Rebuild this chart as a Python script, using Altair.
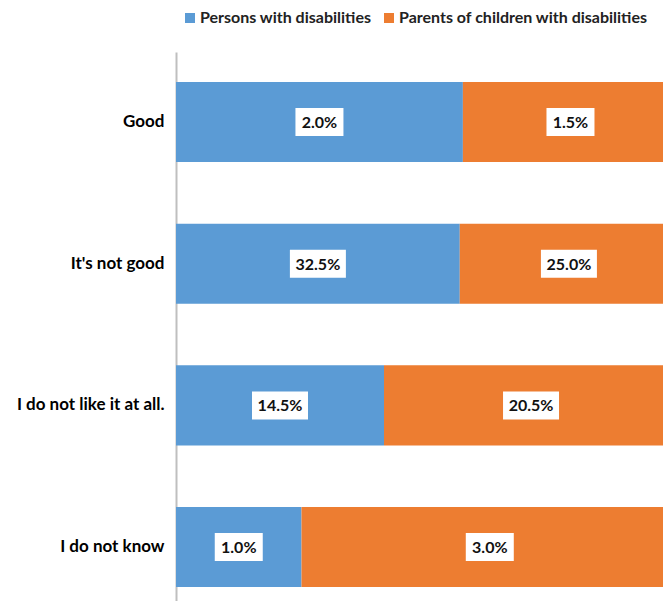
import altair as alt
import pandas as pd

categories = ["Good", "It's not good", "I do not like it at all.", "I do not know"]
series = ["Persons with disabilities", "Parents of children with disabilities"]
persons = [2.0, 32.5, 14.5, 1.0]
parents = [1.5, 25.0, 20.5, 3.0]
colors = ["#5B9BD5", "#ED7D31"]

rows = []
for i, c in enumerate(categories):
    rows.append({"category": c, "series": series[0], "order": 0, "value": persons[i]})
    rows.append({"category": c, "series": series[1], "order": 1, "value": parents[i]})
df = pd.DataFrame(rows)

FONT = "Lato"

base = alt.Chart(df).transform_stack(
    stack="value", as_=["x0", "x1"], groupby=["category"], offset="normalize",
    sort=[alt.SortField("order", "ascending")]
).transform_calculate(
    mid="(datum.x0 + datum.x1) / 2",
    label="format(datum.value, '.1f') + '%'",
).transform_calculate(
    bw="length(datum.label) * 8 + 16",
).transform_calculate(
    boxpath="'M-1,-' + (14 / datum.bw * 2) + 'H1V' + (14 / datum.bw * 2) + 'H-1Z'",
    boxsize="datum.bw * datum.bw",
)

xscale = alt.Scale(domain=[0, 0.970], nice=False, zero=False)
yenc = alt.Y(
    "category:N",
    sort=categories,
    scale=alt.Scale(paddingInner=0.435, paddingOuter=0.155, align=0.683),
    axis=alt.Axis(
        title=None, ticks=False, labelFont=FONT, labelFontWeight="bold",
        labelFontSize=17, labelColor="#000000", labelPadding=12,
        domainColor="#bfbfbf", domainWidth=2, grid=False,
    ),
)

bars = base.mark_bar(clip=True).encode(
    x=alt.X("x0:Q", scale=xscale, axis=None),
    x2="x1:Q",
    y=yenc,
    color=alt.Color(
        "series:N",
        scale=alt.Scale(domain=series, range=colors),
        legend=alt.Legend(
            title=None, orient="none", legendX=6, legendY=-42, direction="horizontal",
            symbolType="square", symbolSize=100, symbolStrokeWidth=0,
            labelFont=FONT, labelFontWeight="bold", labelFontSize=16,
            labelColor="#222222", labelOffset=2, columnPadding=9,
            labelLimit=400,
        ),
    ),
    order=alt.Order("order:Q"),
)

boxes = base.mark_point(filled=True, color="white", opacity=1, strokeWidth=0).encode(
    x=alt.X("mid:Q", scale=xscale, axis=None),
    y=alt.Y("category:N", sort=categories),
    shape=alt.Shape("boxpath:N", scale=None, legend=None),
    size=alt.Size("boxsize:Q", scale=None, legend=None),
)

texts = base.mark_text(
    font=FONT, fontWeight="bold", fontSize=16, color="#111111", baseline="middle", dy=1
).encode(
    x=alt.X("mid:Q", scale=xscale, axis=None),
    y=alt.Y("category:N", sort=categories),
    text="label:N",
)

chart = alt.layer(bars, boxes, texts).properties(
    width=487,
    height=549,
    autosize=alt.AutoSizeParams(type="none"),
    padding={"left": 168, "top": 44, "right": 0, "bottom": 0},
).configure(background="white").configure_view(stroke=None)

chart.save("out.html", embed_options={"renderer": "svg", "actions": False})
